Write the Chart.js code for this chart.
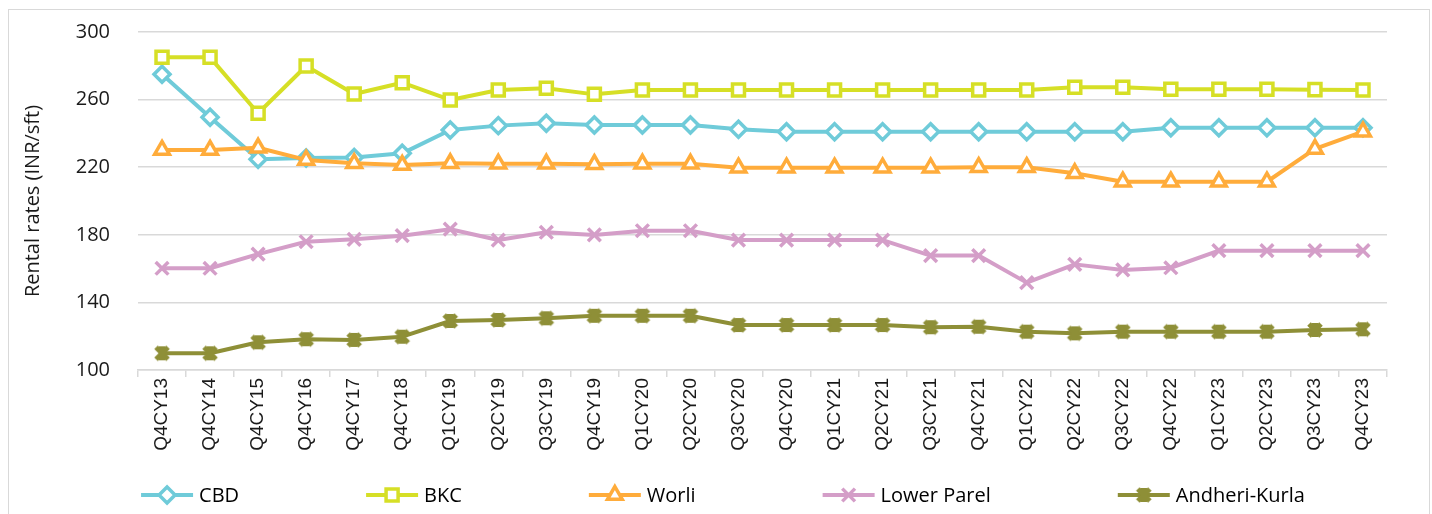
<!DOCTYPE html>
<html>
<head>
<meta charset="utf-8">
<title>Rental rates (INR/sft)</title>
<script src="https://cdn.jsdelivr.net/npm/chart.js@4.4.1/dist/chart.umd.min.js"></script>
<style>
  html, body { margin: 0; padding: 0; background: #fff; overflow: hidden; }
  .frame {
    position: absolute; left: 8px; top: 9px; width: 1422px; height: 505px;
    border: 1px solid #d9d9d9; border-bottom: none; box-sizing: border-box;
  }
  .wrap { position: absolute; left: 0; top: 0; width: 1432px; height: 514px; }
</style>
</head>
<body>
<div class="frame"></div>
<div class="wrap"><canvas id="rentChart"></canvas></div>
<script>
// quarters on the x axis
const quarters = ['Q4CY13', 'Q4CY14', 'Q4CY15', 'Q4CY16', 'Q4CY17', 'Q4CY18',
    'Q1CY19', 'Q2CY19', 'Q3CY19', 'Q4CY19', 'Q1CY20', 'Q2CY20', 'Q3CY20', 'Q4CY20',
    'Q1CY21', 'Q2CY21', 'Q3CY21', 'Q4CY21', 'Q1CY22', 'Q2CY22', 'Q3CY22', 'Q4CY22',
    'Q1CY23', 'Q2CY23', 'Q3CY23', 'Q4CY23'];

// rents per micro-market, INR/sft/month
const cbd = [275, 249.5, 224.7, 225.4, 225.8, 228.2, 242, 244.6, 246, 245, 245, 245, 242.4,
    241, 241, 241, 241, 241, 241, 241, 241, 243.4, 243.4, 243.4, 243.4, 243.4];
const bkc = [285, 285, 251.9, 279.9, 263.3, 270, 259.8, 265.7, 266.7, 263.1, 265.7, 265.7, 265.7,
    265.7, 265.7, 265.7, 265.7, 265.7, 265.7, 267.3, 267.3, 266.1, 266.1, 266.1, 265.9, 265.7];
const worli = [230.2, 230.2, 231.5, 224.3, 222.3, 221.3, 222.3, 222, 222, 221.8, 222, 222, 219.7,
    219.7, 219.7, 219.7, 219.7, 220, 220, 216.4, 211.4, 211.4, 211.4, 211.4, 230.8, 241];
const lowerParel = [160.2, 160.2, 168.6, 175.9, 177.3, 179.5, 183.3, 176.9, 181.5, 179.9, 182.4, 182.4, 176.9,
    176.9, 176.9, 176.9, 167.7, 167.7, 151.7, 162.5, 159.2, 160.5, 170.6, 170.6, 170.6, 170.6];
const andheriKurla = [109.9, 109.9, 116.4, 118.2, 117.8, 119.7, 129, 129.6, 130.6, 132.1, 132.1, 132.1, 126.6,
    126.6, 126.6, 126.6, 125.3, 125.6, 122.7, 121.7, 122.7, 122.7, 122.7, 122.7, 123.7, 124.1];

const yTickValues = [100, 140, 180, 220, 260, 300];

const COLORS = {
    cbd: '#6fcbd9',
    bkc: '#d6df26',
    worli: '#ffac3b',
    lowerParel: '#d49ec8',
    andheriKurla: '#8e8f37'
};

// heavy asterisk marker: thick X with a short vertical bar
function starMarker(color) {
    const c = document.createElement('canvas');
    c.width = 20;
    c.height = 20;
    const g = c.getContext('2d');
    g.strokeStyle = color;
    g.lineWidth = 5;
    g.beginPath();
    g.moveTo(4, 4); g.lineTo(16, 16);
    g.moveTo(16, 4); g.lineTo(4, 16);
    g.stroke();
    g.lineWidth = 6;
    g.beginPath();
    g.moveTo(10, 3); g.lineTo(10, 17);
    g.stroke();
    return c;
}

const series = (label, data, color, style, radius, order) => ({
    label,
    data,
    borderColor: color,
    backgroundColor: '#ffffff',
    borderWidth: 4,
    borderJoinStyle: 'round',
    pointStyle: style,
    pointRadius: radius,
    pointBorderColor: color,
    pointBackgroundColor: '#ffffff',
    pointBorderWidth: 3.5,
    tension: 0,
    order
});

// ── Legend drawn as one centred row under the axis ──────────
const LEGEND_Y = 495;
const LEGEND_CENTER = 723;
const SAMPLE_LEN = 52;
const TEXT_GAP = 6;
const ITEM_GAP = 127;

const legendRow = {
    id: 'legendRow',
    afterDraw(chart) {
        const ctx = chart.ctx;
        ctx.save();
        ctx.font = '20px "Open Sans"';
        const items = chart.data.datasets.map(ds => ({
            ds,
            w: SAMPLE_LEN + TEXT_GAP + ctx.measureText(ds.label).width
        }));
        const total = items.reduce((s, it) => s + it.w, 0) + ITEM_GAP * (items.length - 1);
        let x = LEGEND_CENTER - total / 2;
        items.forEach(({ ds, w }) => {
            ctx.strokeStyle = ds.borderColor;
            ctx.lineWidth = 4;
            ctx.beginPath();
            ctx.moveTo(x, LEGEND_Y);
            ctx.lineTo(x + SAMPLE_LEN, LEGEND_Y);
            ctx.stroke();

            ctx.fillStyle = '#ffffff';
            ctx.strokeStyle = ds.pointBorderColor;
            ctx.lineWidth = ds.pointBorderWidth;
            Chart.helpers.drawPoint(ctx, {
                pointStyle: ds.pointStyle,
                radius: ds.pointRadius,
                rotation: 0,
                borderWidth: ds.pointBorderWidth
            }, x + SAMPLE_LEN / 2, LEGEND_Y);

            ctx.fillStyle = '#000000';
            ctx.textAlign = 'left';
            ctx.textBaseline = 'middle';
            ctx.fillText(ds.label, x + SAMPLE_LEN + TEXT_GAP, LEGEND_Y + 1);
            x += w + ITEM_GAP;
        });
        ctx.restore();
    }
};

new Chart(document.getElementById('rentChart'), {
    type: 'line',
    data: {
        labels: quarters,
        datasets: [
            series('CBD', cbd, COLORS.cbd, 'rectRot', 8, 5),
            series('BKC', bkc, COLORS.bkc, 'rect', 8.5, 4),
            series('Worli', worli, COLORS.worli, 'triangle', 8.5, 3),
            series('Lower Parel', lowerParel, COLORS.lowerParel, 'crossRot', 9, 2),
            series('Andheri-Kurla', andheriKurla, COLORS.andheriKurla, starMarker(COLORS.andheriKurla), 9, 1)
        ]
    },
    options: {
        responsive: true,
        maintainAspectRatio: false,
        animation: false,
        events: [],
        layout: { padding: { left: 0, top: 32, right: 45, bottom: 0 } },
        plugins: {
            legend: { display: false },
            tooltip: { enabled: false }
        },
        scales: {
            x: {
                offset: true,
                grid: {
                    offset: true,
                    drawOnChartArea: false,
                    drawTicks: true,
                    tickLength: 7,
                    color: '#d9d9d9',
                    lineWidth: 1.5
                },
                border: { color: '#d9d9d9', width: 1.5 },
                ticks: {
                    autoSkip: false,
                    minRotation: 90,
                    maxRotation: 90,
                    padding: 1,
                    color: '#1a1a1a',
                    font: { family: '"Liberation Sans", Arial, sans-serif', size: 19 }
                },
                afterFit: (scale) => { scale.height = 144; }
            },
            y: {
                min: 100,
                max: 300,
                afterBuildTicks: (scale) => {
                    scale.ticks = yTickValues.map(v => ({ value: v }));
                },
                // invisible tick marks push the labels away from the plot
                grid: {
                    color: '#d9d9d9',
                    lineWidth: 1.5,
                    drawTicks: true,
                    tickLength: 24,
                    tickColor: 'rgba(0,0,0,0)'
                },
                border: { display: false },
                ticks: {
                    padding: 4,
                    color: '#1a1a1a',
                    font: { family: '"Open Sans", sans-serif', size: 20 }
                },
                title: {
                    display: true,
                    text: 'Rental rates (INR/sft)',
                    color: '#1a1a1a',
                    font: { family: '"Open Sans", sans-serif', size: 20 },
                    padding: { top: 21, bottom: 0 }
                },
                afterFit: (scale) => { scale.width = 138; }
            }
        }
    },
    plugins: [legendRow]
});
</script>
</body>
</html>
